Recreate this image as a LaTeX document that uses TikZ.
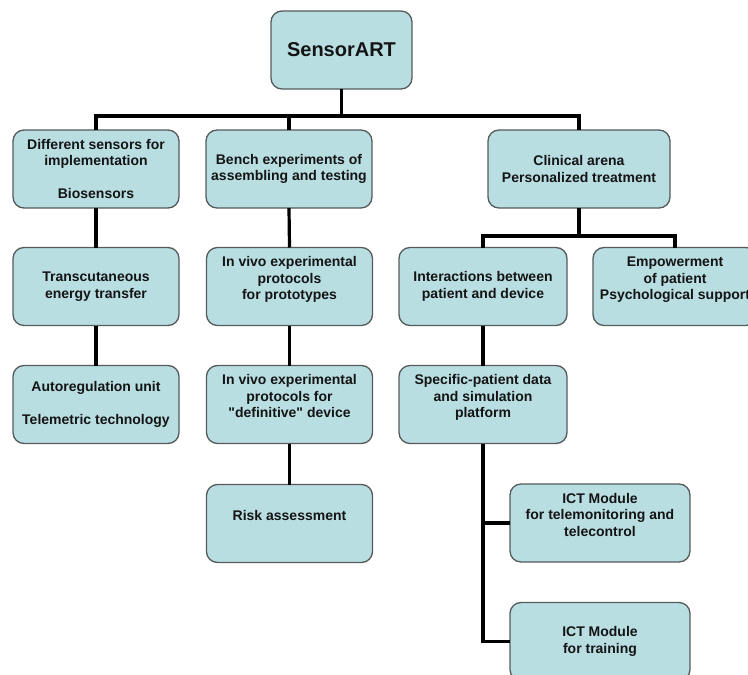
\documentclass[tikz,border=0pt]{standalone}
\usepackage{fontspec}
\newfontfamily\chartfont{Liberation Sans}
\usepackage{xcolor}
\usepackage{tikz}
\usetikzlibrary{positioning}
\definecolor{boxfill}{HTML}{B9DEE2}
\definecolor{boxline}{HTML}{555A5C}
\definecolor{ink}{HTML}{141414}
\tikzset{
  OrgBox/.style={
    draw=boxline, line width=1.3pt,
    fill=boxfill, rounded corners=11pt,
    minimum height=78pt, inner sep=0pt, outer sep=0pt,
    align=center, text=ink,
    font=\chartfont\bfseries\fontsize{14}{16.5}\selectfont
  },
  Link/.style={
    draw=black, line width=3.2pt
  }
}

\begin{document}
\begin{tikzpicture}[x=1pt, y=-1pt, line join=miter]
  \useasboundingbox (0,0) rectangle (748,675);
  \clip (0,0) rectangle (748,675);

  % top of the chart
  \node[OrgBox, minimum width=141pt, font=\chartfont\bfseries\fontsize{20}{24}\selectfont]
    (root) at (341.5,50) {SensorART};

  % first level
  \node[OrgBox, minimum width=166pt] (sens)  at (96,169)
    {Different sensors for\\implementation\\\mbox{}\\Biosensors};
  \node[OrgBox, minimum width=166pt] (bench) at (289,169)
    {Bench experiments of\\assembling and testing};
  \node[OrgBox, minimum width=182pt] (clin)  at (579,169)
    {Clinical arena\\Personalized treatment};

  % second level
  \node[OrgBox, minimum width=166pt] (trans) at (96,286.5)
    {Transcutaneous\\energy transfer};
  \node[OrgBox, minimum width=166pt] (proto) at (289.5,286.5)
    {In vivo experimental\\protocols\\for prototypes\\\mbox{}};
  \node[OrgBox, minimum width=168pt] (inter) at (483,286.5)
    {Interactions between\\patient and device};
  \node[OrgBox, minimum width=164pt] (empow) at (675,286.5)
    {Empowerment\\of patient\\Psychological support\\\mbox{}};

  % third level
  \node[OrgBox, minimum width=166pt] (autoreg) at (96,404.5)
    {Autoregulation unit\\\mbox{}\\Telemetric technology};
  \node[OrgBox, minimum width=166pt] (defin)   at (289.5,404.5)
    {In vivo experimental\\protocols for\\"definitive" device\\\mbox{}};
  \node[OrgBox, minimum width=168pt] (spec)    at (483,404.5)
    {Specific-patient data\\and simulation\\platform\\\mbox{}};

  % fourth level
  \node[OrgBox, minimum width=166pt] (risk) at (289.5,523.5)
    {Risk assessment\\\mbox{}};
  \node[OrgBox, minimum width=180pt] (ictmon)   at (600,523)
    {ICT Module\\for telemonitoring and\\telecontrol\\\mbox{}};
  \node[OrgBox, minimum width=180pt] (icttrain) at (600,641.5)
    {ICT Module\\for training};

  % connectors
  \path (root.south) ++(0,27) coordinate (hub);
  \path (clin.south) ++(0,28) coordinate (csplit);

  \draw[Link] (root.south) -- (hub);
  \draw[Link] (sens.north) |- (hub) -| (clin.north);
  \draw[Link] (bench.north) -- (bench.north |- hub);

  \draw[Link] (sens.south) -- (trans.north);
  \draw[Link] (trans.south) -- (autoreg.north);

  \draw[Link] (bench.south) -- (proto.north);
  \draw[Link] (proto.south) -- (defin.north);
  \draw[Link] (defin.south) -- (risk.north);

  \draw[Link] (clin.south) -- (csplit);
  \draw[Link] (inter.north) |- (csplit) -| (empow.north);
  \draw[Link] (inter.south) -- (spec.north);
  \draw[Link] (spec.south) |- (icttrain.west);
  \draw[Link] (spec.south |- ictmon.west) -- (ictmon.west);
\end{tikzpicture}
\end{document}
